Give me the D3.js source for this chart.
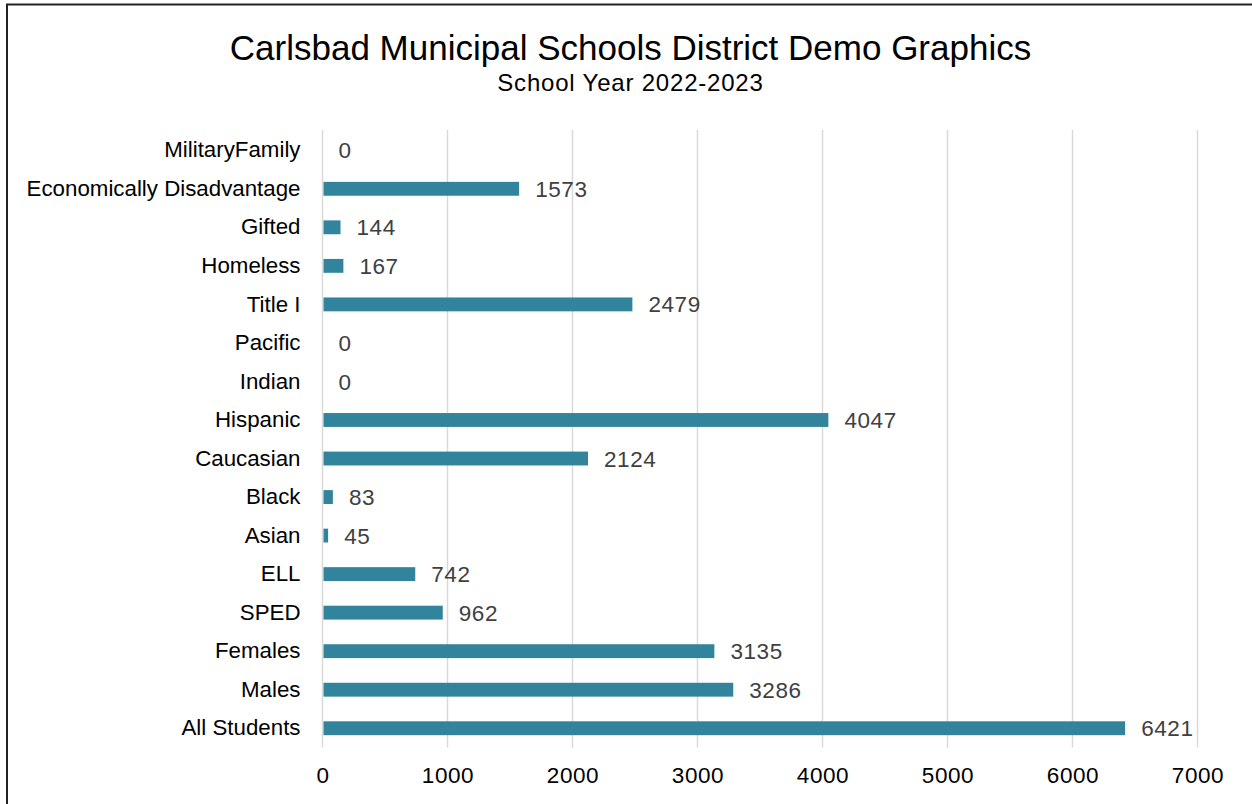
<!DOCTYPE html>
<html>
<head>
<meta charset="utf-8">
<script src="https://cdn.jsdelivr.net/npm/d3@7"></script>
<style>
  html, body { margin: 0; padding: 0; background: #fff; }
  svg { display: block; }
</style>
</head>
<body>
<svg id="chart" width="1252" height="804"></svg>
<script>
const categories = ["MilitaryFamily","Economically Disadvantage","Gifted","Homeless","Title I","Pacific","Indian","Hispanic","Caucasian","Black","Asian","ELL","SPED","Females","Males","All Students"];
const values = [0,1573,144,167,2479,0,0,4047,2124,83,45,742,962,3135,3286,6421];
const xTicks = [0,1000,2000,3000,4000,5000,6000,7000];
const titleText = "Carlsbad Municipal Schools District Demo Graphics";
const subtitleText = "School Year 2022-2023";

(function () {
const svg = d3.select("#chart");
const W = 1252, H = 804;
const font = "'Liberation Sans', Arial, sans-serif";

// frame (cut off at right and bottom)
svg.append("path")
  .attr("d", `M7,${H+5} L7,4.5 L${W+5},4.5`)
  .attr("fill", "none").attr("stroke", "#222").attr("stroke-width", 2);

// titles
svg.append("text").attr("x", 630.5).attr("y", 60).attr("text-anchor", "middle")
  .attr("font-family", font).attr("font-size", 35).attr("fill", "#000").text(titleText);
svg.append("text").attr("x", 630.5).attr("y", 91).attr("text-anchor", "middle")
  .attr("font-family", font).attr("font-size", 24).attr("letter-spacing", 0.8).attr("fill", "#000").text(subtitleText);

const pL = 322.5, pR = 1197.5, pT = 131, pB = 747.5;
const x = d3.scaleLinear().domain([0, 7000]).range([pL, pR]);
const y = d3.scaleBand().domain(categories).range([pT, pB]).paddingInner(0.64).paddingOuter(0.32);

// gridlines
svg.append("g").selectAll("line").data(xTicks).join("line")
  .attr("x1", d => x(d)).attr("x2", d => x(d))
  .attr("y1", pT - 1).attr("y2", pB)
  .attr("stroke", "#d9d9d9").attr("stroke-width", 1.5);

// bars
svg.append("g").selectAll("rect").data(values).join("rect")
  .attr("x", x(0) + 1)
  .attr("y", (d, i) => y(categories[i]))
  .attr("width", d => Math.max(0, x(d) - x(0) - 1))
  .attr("height", y.bandwidth())
  .attr("fill", "#31849B");

// value labels
svg.append("g").selectAll("text").data(values).join("text")
  .attr("x", d => x(d) + 16)
  .attr("y", (d, i) => y(categories[i]) + y.bandwidth() / 2)
  .attr("dy", "0.36em")
  .attr("font-family", font).attr("font-size", 22.5).attr("letter-spacing", 0.6).attr("fill", "#404040")
  .text(d => d);

// y axis labels
const yAxis = d3.axisLeft(y).tickSize(0).tickPadding(22);
const gy = svg.append("g").attr("transform", `translate(${pL},0)`).call(yAxis);
gy.select(".domain").remove();
gy.selectAll("text").attr("font-family", font).attr("font-size", 22.3).attr("fill", "#000");

// x axis labels
const xAxis = d3.axisBottom(x).tickValues(xTicks).tickSize(0).tickPadding(20).tickFormat(d3.format("d"));
const gx = svg.append("g").attr("transform", `translate(0,${pB})`).call(xAxis);
gx.select(".domain").remove();
gx.selectAll("text").attr("font-family", font).attr("font-size", 22.5).attr("letter-spacing", 0.6).attr("fill", "#000");
})();
</script>
</body>
</html>
